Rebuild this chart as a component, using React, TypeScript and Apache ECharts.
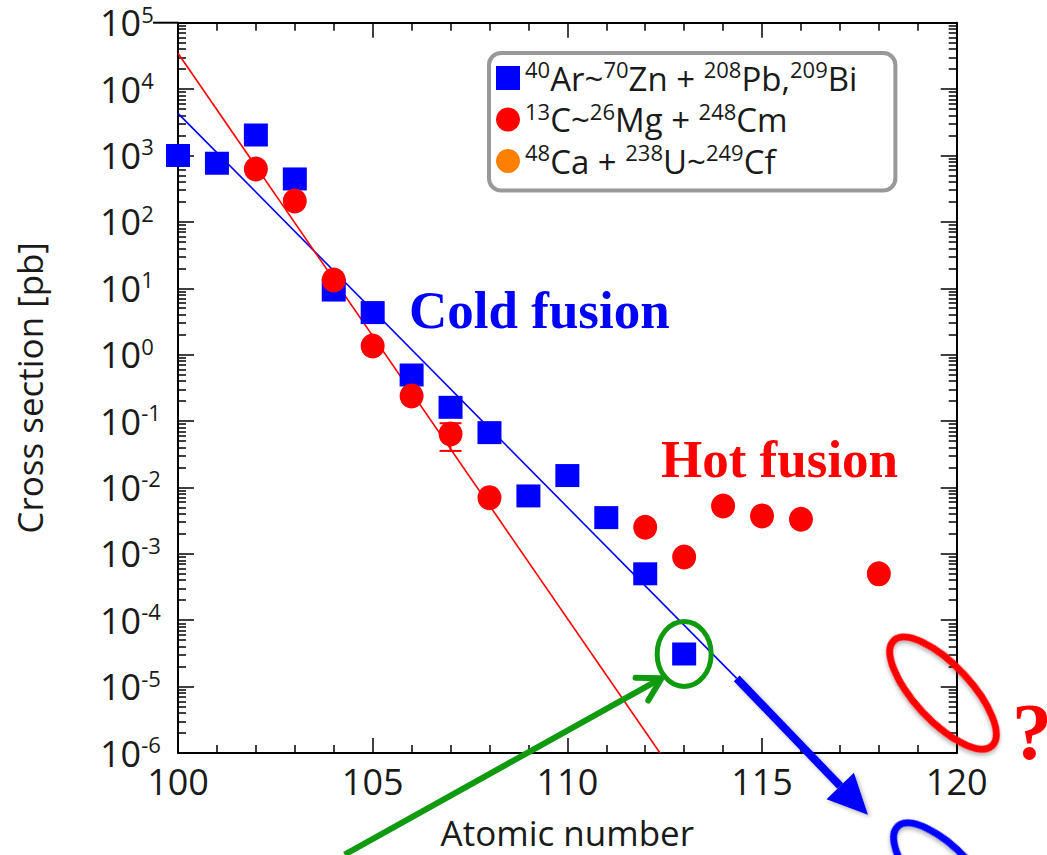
import React, { useEffect, useRef } from "react";
import * as echarts from "echarts";

// ---- data ----
const coldZ = [100, 101, 102, 103, 104, 105, 106, 107, 108, 109, 110, 111, 112, 113];
const coldSigma = [1000, 764, 2035, 443, 9.4, 4.3, 0.494, 0.161, 0.0669, 0.00745, 0.0151, 0.00351, 5.0e-4, 3.1e-5];

const hotZ = [102, 103, 104, 105, 106, 107, 108, 112, 113, 114, 115, 116, 118];
const hotSigma = [626, 206, 13.3, 1.35, 0.239, 0.064, 0.00702, 0.00251, 8.97e-4, 0.00526, 0.00372, 0.00332, 5.0e-4];

const errZ = [107];
const errLow = [0.0355];
const errHigh = [0.0927];

const coldFitZ = [100, 114.35];
const coldFitSigma = [4316, 1.33e-5];
const hotFitZ = [100, 112.38];
const hotFitSigma = [34600, 1e-6];

const ca48Z: number[] = [];
const ca48Sigma: number[] = [];

// annotation anchors (data space)
const greenArrowZ = [104.28, 112.42];
const greenArrowSigma = [2.95e-8, 1.34e-5];
const blueArrowZ = [114.35, 117.72];
const blueArrowSigma = [1.33e-5, 1.17e-7];
const ringZ = [113, 119.65, 119.75];
const ringSigma = [3.1e-5, 8.0e-6, 1.27e-8];

const seriesNames = ["cold", "hot", "ca48"];
const legendParts: [string, string][][] = [
  [["s", "40"], ["m", "Ar~"], ["s", "70"], ["m", "Zn + "], ["s", "208"], ["m", "Pb,"], ["s", "209"], ["m", "Bi"]],
  [["s", "13"], ["m", "C~"], ["s", "26"], ["m", "Mg + "], ["s", "248"], ["m", "Cm"]],
  [["s", "48"], ["m", "Ca + "], ["s", "238"], ["m", "U~"], ["s", "249"], ["m", "Cf"]],
];

const xName = "Atomic number";
const yName = "Cross section [pb]";
const coldLabel = "Cold fusion";
const hotLabel = "Hot fusion";

const FONT = "'Open Sans', 'Noto Sans', sans-serif";
const SERIF = "'Liberation Serif', 'DejaVu Serif', serif";
const BLUE = "#0000ff";
const RED = "#ff0000";
const ORANGE = "#ff8000";
const GREEN = "#109a10";
const TXT = "#1a1a1a";

export default function App() {
  const ref = useRef<HTMLDivElement>(null);

  useEffect(() => {
    if (!ref.current) return;
    const chart = echarts.init(ref.current, null, { renderer: "svg" });

    const tickStyle = { color: "#000", width: 1.5 };
    const baseX = {
      type: "value" as const,
      min: 100,
      max: 120,
      interval: 5,
      axisLine: { show: true, onZero: false, lineStyle: { color: "#000", width: 2 } },
      axisTick: { show: true, inside: true, length: 15, lineStyle: tickStyle },
      minorTick: { show: true, splitNumber: 5, length: 8, lineStyle: tickStyle },
      splitLine: { show: false },
    };
    const baseY = {
      type: "log" as const,
      logBase: 10,
      min: 1e-6,
      max: 1e5,
      interval: 1,
      axisLine: { show: true, onZero: false, lineStyle: { color: "#000", width: 2 } },
      axisTick: { show: true, inside: true, length: 16, lineStyle: tickStyle },
      minorTick: { show: true, splitNumber: 9, length: 8, lineStyle: tickStyle },
      splitLine: { show: false },
    };

    const legendRich = {
      m: { fontSize: 33, lineHeight: 40, fontFamily: FONT, color: TXT },
      s: { fontSize: 22, lineHeight: 22, verticalAlign: "top", fontFamily: FONT, color: TXT },
    };

    chart.setOption({
      animation: false,
      backgroundColor: "#fff",
      grid: { left: 178, right: 90.3, top: 22.7, bottom: 102, containLabel: false },
      xAxis: [
        {
          ...baseX,
          position: "bottom",
          axisLabel: { show: true, margin: 10, fontSize: 36, fontFamily: FONT, color: TXT },
          name: xName,
          nameLocation: "middle",
          nameGap: 62,
          nameTextStyle: { fontSize: 35, fontFamily: FONT, color: TXT },
        },
        { ...baseX, position: "top", axisLabel: { show: false } },
      ],
      yAxis: [
        {
          ...baseY,
          position: "left",
          axisLabel: {
            show: true,
            align: "left",
            margin: 78,
            formatter: (v: number) => `{b|10}{s|${Math.round(Math.log10(v))}}`,
            rich: {
              b: { fontSize: 36, lineHeight: 40, fontFamily: FONT, color: TXT },
              s: { fontSize: 22, lineHeight: 26, verticalAlign: "top", fontFamily: FONT, color: TXT },
            },
          },
          name: yName,
          nameLocation: "middle",
          nameGap: 131,
          nameTextStyle: { fontSize: 35, fontFamily: FONT, color: TXT },
        },
        { ...baseY, position: "right", axisLabel: { show: false } },
      ],
      legend: {
        orient: "vertical",
        left: 489,
        top: 53,
        padding: [5, 38, 13, 7],
        itemWidth: 24,
        itemHeight: 24,
        itemGap: 5,
        itemTextGap: 20,
        borderColor: "#999",
        borderWidth: 4,
        borderRadius: 12,
        backgroundColor: "#fff",
        textStyle: { fontSize: 33, fontFamily: FONT, color: TXT, rich: legendRich },
        formatter: (name: string) => {
          const i = seriesNames.indexOf(name);
          return legendParts[i].map(([k, t]) => `{${k}|${t}}`).join("");
        },
        data: [
          { name: seriesNames[0], icon: "rect" },
          { name: seriesNames[1], icon: "circle" },
          { name: seriesNames[2], icon: "circle" },
        ],
      },
      series: [
        {
          type: "line",
          name: "coldFit",
          data: coldFitZ.map((z, i) => [z, coldFitSigma[i]]),
          symbol: "none",
          lineStyle: { color: BLUE, width: 1.6 },
          silent: true,
          z: 1,
        },
        {
          type: "line",
          name: "hotFit",
          data: hotFitZ.map((z, i) => [z, hotFitSigma[i]]),
          symbol: "none",
          lineStyle: { color: RED, width: 1.6 },
          silent: true,
          z: 1,
        },
        {
          type: "scatter",
          name: seriesNames[0],
          data: coldZ.map((z, i) => [z, coldSigma[i]]),
          symbol: "rect",
          symbolSize: [24, 23],
          itemStyle: { color: BLUE, opacity: 1 },
          z: 3,
        },
        {
          type: "custom",
          name: "err",
          data: errZ.map((z, i) => [z, errLow[i], errHigh[i]]),
          encode: { x: 0, y: [1, 2] },
          z: 4,
          renderItem: (params: any, api: any) => {
            const x = api.value(0);
            const lo = api.coord([x, api.value(1)]);
            const hi = api.coord([x, api.value(2)]);
            const w = 11;
            const st = { stroke: RED, lineWidth: 2 };
            return {
              type: "group",
              children: [
                { type: "line", shape: { x1: lo[0], y1: lo[1], x2: hi[0], y2: hi[1] }, style: st },
                { type: "line", shape: { x1: lo[0] - w, y1: lo[1], x2: lo[0] + w, y2: lo[1] }, style: st },
                { type: "line", shape: { x1: hi[0] - w, y1: hi[1], x2: hi[0] + w, y2: hi[1] }, style: st },
              ],
            };
          },
        },
        {
          type: "scatter",
          name: seriesNames[1],
          data: hotZ.map((z, i) => [z, hotSigma[i]]),
          symbol: "circle",
          symbolSize: [24, 25],
          itemStyle: { color: RED, opacity: 1 },
          z: 5,
        },
        {
          type: "scatter",
          name: seriesNames[2],
          data: ca48Z.map((z, i) => [z, ca48Sigma[i]]),
          symbol: "circle",
          symbolSize: 24,
          itemStyle: { color: ORANGE, opacity: 1 },
          z: 5,
        },
      ],
    });

    const px = (z: number, s: number) =>
      chart.convertToPixel({ xAxisIndex: 0, yAxisIndex: 0 }, [z, s]) as number[];

    const gA = px(greenArrowZ[0], greenArrowSigma[0]);
    const gB = px(greenArrowZ[1], greenArrowSigma[1]);
    const bA = px(blueArrowZ[0], blueArrowSigma[0]);
    const bB = px(blueArrowZ[1], blueArrowSigma[1]);
    const gRing = px(ringZ[0], ringSigma[0]);
    const rRing = px(ringZ[1], ringSigma[1]);
    const bRing = px(ringZ[2], ringSigma[2]);

    // green open arrowhead
    const gdx = gA[0] - gB[0];
    const gdy = gA[1] - gB[1];
    const gl = Math.hypot(gdx, gdy);
    const gux = gdx / gl, guy = gdy / gl;
    const rot = (ux: number, uy: number, a: number) => [ux * Math.cos(a) - uy * Math.sin(a), ux * Math.sin(a) + uy * Math.cos(a)];
    const h1 = rot(gux, guy, Math.PI / 6);
    const h2 = rot(gux, guy, -Math.PI / 6);
    const hl = 26;

    // blue filled arrowhead
    const bdx = bB[0] - bA[0];
    const bdy = bB[1] - bA[1];
    const bl = Math.hypot(bdx, bdy);
    const bux = bdx / bl, buy = bdy / bl;
    const headLen = 40, headHalf = 19;
    const baseC = [bB[0] - bux * headLen, bB[1] - buy * headLen];
    const nx = -buy, ny = bux;

    const shadow = { shadowBlur: 4, shadowColor: "rgba(0,0,0,0.3)", shadowOffsetX: 2, shadowOffsetY: 2 };
    const ang = (47 * Math.PI) / 180;

    chart.setOption({
      graphic: [
        { type: "line", shape: { x1: 153, y1: 22.7, x2: 178, y2: 22.7 }, style: { stroke: "#000", lineWidth: 2 }, z: 50 },
        {
          type: "text",
          left: 409,
          top: 283,
          style: { text: coldLabel, font: `bold 53px ${SERIF}`, fill: BLUE },
          z: 60,
        },
        {
          type: "text",
          left: 661,
          top: 432,
          style: { text: hotLabel, font: `bold 53px ${SERIF}`, fill: RED },
          z: 60,
        },
        {
          type: "text",
          left: 1012,
          top: 692,
          style: { text: "?", font: `bold 80px ${SERIF}`, fill: RED },
          z: 60,
        },
        {
          type: "ellipse",
          x: gRing[0],
          y: gRing[1],
          shape: { cx: 0, cy: 0, rx: 27, ry: 32.5 },
          style: { fill: "none", stroke: GREEN, lineWidth: 5 },
          z: 60,
        },
        {
          type: "ellipse",
          x: rRing[0],
          y: rRing[1],
          rotation: -ang,
          shape: { cx: 0, cy: 0, rx: 72, ry: 28 },
          style: { fill: "none", stroke: RED, lineWidth: 7, ...shadow },
          z: 60,
        },
        {
          type: "ellipse",
          x: bRing[0],
          y: bRing[1],
          rotation: -ang,
          shape: { cx: 0, cy: 0, rx: 72, ry: 28 },
          style: { fill: "none", stroke: BLUE, lineWidth: 7, ...shadow },
          z: 60,
        },
        {
          type: "line",
          shape: { x1: gA[0], y1: gA[1], x2: gB[0], y2: gB[1] },
          style: { stroke: GREEN, lineWidth: 6 },
          z: 60,
        },
        {
          type: "polyline",
          shape: {
            points: [
              [gB[0] + h1[0] * hl, gB[1] + h1[1] * hl],
              [gB[0], gB[1]],
              [gB[0] + h2[0] * hl, gB[1] + h2[1] * hl],
            ],
          },
          style: { stroke: GREEN, lineWidth: 6, fill: "none", lineCap: "round", lineJoin: "round" },
          z: 60,
        },
        {
          type: "line",
          shape: { x1: bA[0], y1: bA[1], x2: baseC[0], y2: baseC[1] },
          style: { stroke: BLUE, lineWidth: 8, ...shadow },
          z: 60,
        },
        {
          type: "polygon",
          shape: {
            points: [
              [bB[0], bB[1]],
              [baseC[0] + nx * headHalf, baseC[1] + ny * headHalf],
              [baseC[0] - nx * headHalf, baseC[1] - ny * headHalf],
            ],
          },
          style: { fill: BLUE, ...shadow },
          z: 60,
        },
      ],
    });

    return () => chart.dispose();
  }, []);

  return (
    <div
      ref={ref}
      style={{ position: "absolute", left: 0, top: 0, width: 1047, height: 855 }}
    />
  );
}
